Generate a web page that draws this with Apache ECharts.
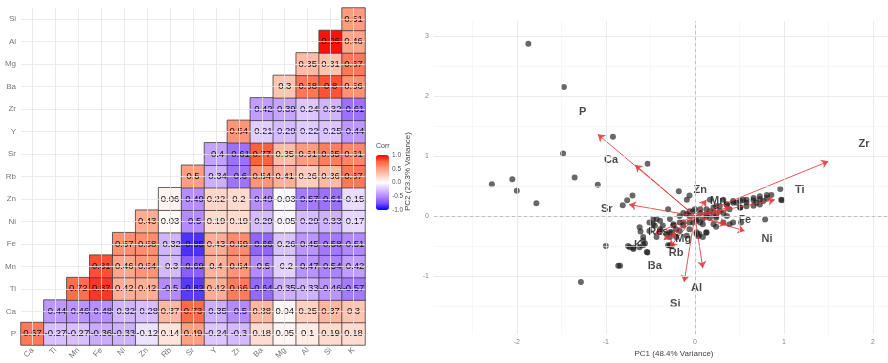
<!DOCTYPE html>
<html><head><meta charset="utf-8">
<script src="https://cdn.jsdelivr.net/npm/echarts@6/dist/echarts.min.js"></script>
<style>html,body{margin:0;padding:0;background:#fff}#c{width:888px;height:363px}</style>
</head><body><div id="c"></div>
<script>
// ---------- correlation matrix ----------
const xCats = ['Ca','Ti','Mn','Fe','Ni','Zn','Rb','Sr','Y','Zr','Ba','Mg','Al','Si','K'];
const yCats = ['P','Ca','Ti','Mn','Fe','Ni','Zn','Rb','Sr','Y','Zr','Ba','Mg','Al','Si'];
// each row: values for the columns from its own index up to K
const rowP  = [0.67,-0.27,-0.27,-0.36,-0.33,-0.12,0.14,0.49,-0.24,-0.3,0.18,0.05,0.1,0.19,0.18];
const rowCa = [-0.44,-0.46,-0.48,-0.32,-0.28,0.37,0.73,-0.35,-0.5,0.38,0.04,0.25,0.37,0.3];
const rowTi = [0.72,0.87,0.42,0.42,-0.5,-0.82,0.42,0.66,-0.64,-0.35,-0.33,-0.46,-0.57];
const rowMn = [0.81,0.46,0.54,-0.3,-0.69,0.4,0.54,-0.5,-0.2,-0.47,-0.54,-0.42];
const rowFe = [0.57,0.58,-0.32,-0.85,0.43,0.59,-0.66,-0.26,-0.45,-0.58,-0.51];
const rowNi = [0.43,0.03,-0.5,0.19,0.19,-0.29,-0.05,-0.29,-0.33,-0.17];
const rowZn = [0.06,-0.49,0.22,0.2,-0.49,-0.03,-0.57,-0.61,-0.15];
const rowRb = [0.5,-0.34,-0.6,0.54,0.41,0.26,0.36,0.67];
const rowSr = [-0.4,-0.61,0.77,0.35,0.51,0.65,0.61];
const rowY  = [0.54,-0.21,-0.29,-0.22,-0.25,-0.44];
const rowZr = [-0.42,-0.39,-0.24,-0.32,-0.61];
const rowBa = [0.3,0.68,0.8,0.56];
const rowMg = [0.35,0.31,0.67];
const rowAl = [0.96,0.46];
const rowSi = [0.51];
const corrRows = [rowP,rowCa,rowTi,rowMn,rowFe,rowNi,rowZn,rowRb,rowSr,rowY,rowZr,rowBa,rowMg,rowAl,rowSi];
const legendTicks = [-1, -0.5, 0, 0.5, 1];

// ---------- PCA biplot ----------
const pcaPoints = [
 [-1.87,2.87],[-1.47,2.15],[-0.92,1.32],[-1.48,1.04],[-0.53,0.87],[-2.28,0.53],[-2.05,0.61],
 [-1.35,0.64],[-1.09,0.52],[-2.00,0.42],[-0.70,0.34],[-1.78,0.21],[-0.76,0.26],[-0.81,0.18],
 [-1.00,-0.50],[-0.75,-0.50],[-0.69,-0.53],[-0.84,-0.83],[-0.86,-0.83],[-1.28,-1.10],
 [-0.62,-0.19],[-0.61,-0.26],[-0.58,-0.41],[-0.54,-0.60],[-0.58,-0.35],[-0.56,-0.46],[-0.53,-0.61],
 [-0.30,-0.49],[-0.26,-0.50],[0.79,-0.06],[0.96,0.45],[0.98,0.26],[0.04,-0.34],[0.05,-0.30],
 [0.13,-0.28],[0.24,-0.18],[0.39,-0.14],[0.52,-0.11],[0.43,-0.11],[0.06,-0.11],[-0.47,-0.06],
 [-0.39,-0.08],[-0.30,0.11],
 [-0.18,0.41],[-0.09,0.27],[-0.06,0.34],[0.00,0.11],[0.17,0.27],[0.32,0.27],[0.43,0.25],
 [0.54,0.27],[0.66,0.30],[0.73,0.33],[0.81,0.35],[0.86,0.35],[0.97,0.27],[0.24,0.16],
 [0.36,0.19],[0.47,0.22],[0.58,0.22],[0.69,0.22],[0.77,0.25],[-0.13,0.05],[-0.06,0.08],
 [0.06,0.05],[0.17,0.08],[0.28,0.08],[0.39,0.11],[0.51,0.14],[-0.43,-0.05],[-0.28,-0.05],
 [-0.17,0.00],[-0.06,0.00],[0.02,-0.05],[0.13,0.00],[0.24,-0.03],[0.36,0.00],[-0.47,-0.14],
 [-0.36,-0.16],[-0.24,-0.14],[-0.13,-0.11],[-0.02,-0.11],[0.09,-0.14],[0.21,-0.14],[0.32,-0.11],
 [-0.51,-0.25],[-0.39,-0.25],[-0.28,-0.27],[-0.17,-0.25],[-0.06,-0.22],[0.02,-0.27],[0.13,-0.27],
 [-0.43,-0.35],[-0.28,-0.35],[-0.21,-0.35],[-0.09,-0.33],[0.02,-0.30],[0.09,-0.35],
 [-0.62,-0.52],[-0.58,-0.49],[-0.69,-0.55],[-0.73,-0.52],[-0.28,-0.49],
 [0.13,0.11],[0.21,0.14],[0.28,0.16],[0.36,0.19],[0.43,0.22],[0.51,0.25],[0.58,0.27],
 [0.66,0.26],[0.73,0.28],[0.81,0.30],[0.51,0.14],[0.58,0.16],[0.66,0.17],[0.73,0.19],
 [0.32,0.05],[0.24,0.00],[0.17,-0.03],[0.09,-0.05],[0.02,-0.08],[-0.06,-0.11],[-0.13,-0.16],
 [-0.21,-0.22],[-0.26,-0.27],[-0.32,-0.30],[-0.39,-0.22],[-0.45,-0.16],[-0.51,-0.11],
 [-0.17,-0.11],[-0.24,-0.16],[-0.09,0.03],[-0.02,0.08],[0.06,0.11],[0.13,0.03],[0.21,0.05]
];
const arrowNames = ['P','Ca','Sr','Zr','Ti','Zn','Mn','Y','Fe','Ni','K','Mg','Rb','Ba','Al','Si'];
const arrowX = [-1.09,-0.67,-0.74,1.50,0.90,0.13,0.40,0.30,0.36,0.56,-0.45,-0.26,-0.28,-0.35,-0.12,0.09];
const arrowY = [1.36,0.85,0.19,0.91,0.27,0.27,0.15,0.05,-0.14,-0.25,-0.30,-0.35,-0.52,-0.40,-1.10,-0.87];
const labelNames = ['P','Ca','Sr','Zr','Ti','Zn','Mn','Fe','Ni','Res','K','Mg','Rb','Ba','Al','Si'];
const labelX = [-1.26,-0.94,-0.99,1.90,1.18,0.06,0.26,0.56,0.81,-0.41,-0.64,-0.13,-0.21,-0.45,0.02,-0.22];
const labelY = [1.73,0.94,0.12,1.20,0.43,0.44,0.25,-0.07,-0.39,-0.27,-0.49,-0.39,-0.61,-0.83,-1.20,-1.46];
const pcaXMajor = [-2,-1,0,1,2];
const pcaXMinor = [-2.5,-1.5,-0.5,0.5,1.5];
const pcaYMajor = [-1,0,1,2,3];
const pcaYMinor = [-1.5,-0.5,0.5,1.5,2.5];

// ---------- build ----------
const heatData = [];
corrRows.forEach((row, r) => row.forEach((v, k) => heatData.push([r + k, r, v])));

const FONT = "'Liberation Sans', Arial, sans-serif";
const majorStyle = {color:'#e6e6e6', width:0.8, type:'solid'};
const minorStyle = {color:'#f2f2f2', width:0.6, type:'solid'};
const zeroStyle  = {color:'#b5b5b5', width:0.8, type:[3,3]};

const heatGridLines = xCats.map(c => ({xAxis:c, lineStyle:majorStyle}))
  .concat(yCats.map(c => ({yAxis:c, lineStyle:majorStyle})));
const pcaGridLines = []
  .concat(pcaXMinor.map(v => ({xAxis:v, lineStyle:minorStyle})))
  .concat(pcaYMinor.map(v => ({yAxis:v, lineStyle:minorStyle})))
  .concat(pcaXMajor.map(v => ({xAxis:v, lineStyle:majorStyle})))
  .concat(pcaYMajor.map(v => ({yAxis:v, lineStyle:majorStyle})))
  .concat([{xAxis:0, lineStyle:zeroStyle},{yAxis:0, lineStyle:zeroStyle}]);

const chart = echarts.init(document.getElementById('c'), null, {renderer:'canvas'});
chart.setOption({
  animation:false,
  backgroundColor:'#fff',
  textStyle:{fontFamily:FONT},
  grid:[
    {left:21, top:8, width:344, height:337},
    {left:434, top:21, width:454, height:319.5},
    {left:376, top:155, width:13, height:55}
  ],
  xAxis:[
    {type:'category', gridIndex:0, data:xCats, axisLine:{show:false}, axisTick:{show:false},
     splitLine:{show:false},
     axisLabel:{rotate:45, fontSize:8, color:'#777', margin:4, fontFamily:FONT}},
    {type:'value', gridIndex:1, min:-2.93, max:2.17, axisLine:{show:false}, axisTick:{show:false},
     splitLine:{show:false},
     axisLabel:{fontSize:7, color:'#888', margin:4, showMinLabel:false, showMaxLabel:false, fontFamily:FONT},
     name:'PC1 (48.4% Variance)', nameLocation:'middle', nameGap:12,
     nameTextStyle:{fontSize:8, color:'#444', fontFamily:FONT, padding:[0,0,0,26]}},
    {type:'value', gridIndex:2, show:false, min:0, max:1}
  ],
  yAxis:[
    {type:'category', gridIndex:0, data:yCats, axisLine:{show:false}, axisTick:{show:false},
     splitLine:{show:false},
     axisLabel:{fontSize:8, color:'#777', margin:5, fontFamily:FONT}},
    {type:'value', gridIndex:1, min:-1.97, max:3.25, axisLine:{show:false}, axisTick:{show:false},
     splitLine:{show:false},
     axisLabel:{fontSize:7, color:'#888', margin:5, showMinLabel:false, showMaxLabel:false, fontFamily:FONT},
     name:'PC2 (23.3% Variance)', nameLocation:'middle', nameGap:16, nameRotate:90,
     nameTextStyle:{fontSize:8, color:'#444', fontFamily:FONT, padding:[0,0,0,12]}},
    {type:'value', gridIndex:2, position:'right', min:legendTicks[0], max:legendTicks[legendTicks.length-1],
     interval:0.5, axisLine:{show:false}, axisTick:{show:false}, splitLine:{show:false},
     axisLabel:{fontSize:6.5, color:'#555', margin:3, formatter:v => v.toFixed(1), fontFamily:FONT}}
  ],
  visualMap:{
    type:'continuous', min:-1, max:1, seriesIndex:1, dimension:2, calculable:false,
    orient:'vertical', left:376, top:155, itemWidth:13, itemHeight:55, padding:0,
    inRange:{color:['#0000FF','#7E51FF','#B38BFF','#DCC4FF','#FFFFFF','#FFCFBF','#FF9E81','#FF6846','#FF0000']}
  },
  graphic:[{type:'text', left:376, top:143, style:{text:'Corr', fontSize:7, fill:'#444', fontFamily:FONT}}],
  series:[
    {type:'line', xAxisIndex:0, yAxisIndex:0, data:[], z:0, silent:true,
     markLine:{silent:true, symbol:['none','none'], label:{show:false}, animation:false, data:heatGridLines}},
    {type:'heatmap', xAxisIndex:0, yAxisIndex:0, data:heatData, z:2,
     itemStyle:{borderColor:'#3c3c3c', borderWidth:0.8},
     label:{show:true, fontSize:9.5, color:'#111', fontFamily:FONT, textBorderWidth:0, textShadowBlur:0,
            formatter:p => String(p.value[2])},
     emphasis:{disabled:true}},
    {type:'line', xAxisIndex:1, yAxisIndex:1, data:[], z:0, silent:true,
     markLine:{silent:true, symbol:['none','none'], label:{show:false}, animation:false, data:pcaGridLines}},
    {type:'scatter', xAxisIndex:1, yAxisIndex:1, data:pcaPoints, symbolSize:6, z:2,
     itemStyle:{color:'rgba(25,25,25,0.82)'}},
    {type:'lines', coordinateSystem:'cartesian2d', xAxisIndex:1, yAxisIndex:1, z:3,
     symbol:['none','arrow'], symbolSize:[0,7],
     lineStyle:{color:'#e2383a', width:1, opacity:0.85},
     data:arrowNames.map((n,i) => ({name:n, coords:[[0,0],[arrowX[i],arrowY[i]]]}))},
    {type:'scatter', xAxisIndex:1, yAxisIndex:1, z:4, symbolSize:0,
     data:labelNames.map((n,i) => ({name:n, value:[labelX[i],labelY[i]]})),
     label:{show:true, position:'inside', formatter:p => p.name, fontSize:11, fontWeight:'bold', color:'#1a1a1a', fontFamily:FONT}}
  ]
});
</script></body></html>
